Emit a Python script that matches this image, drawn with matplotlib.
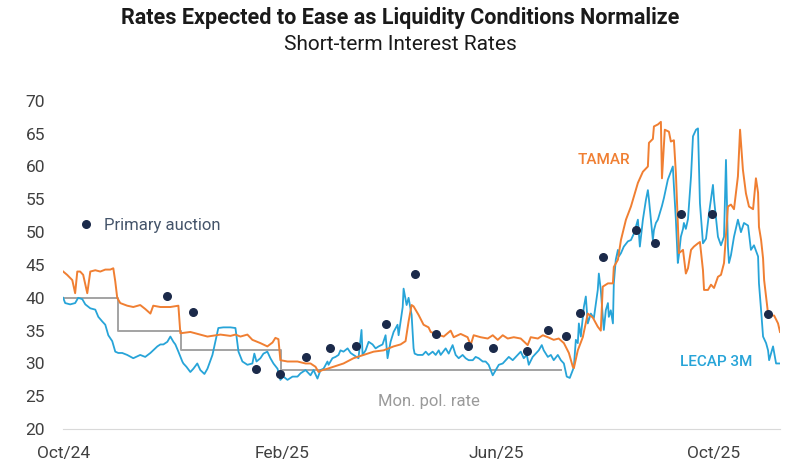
import pandas as pd
import matplotlib.pyplot as plt

plt.rcParams['font.family'] = ['Roboto', 'DejaVu Sans']

start = pd.Timestamp('2024-10-01')

# TAMAR, days since 1 Oct 2024 and rate (%)
tamar_days = [0, 2.2, 5.1, 6.7, 7.9, 9.5, 11.2, 13.5, 15.2, 18.0, 20.8, 23.6, 26.4, 28.1, 29.2,
              30.3, 32.0, 35.9, 39.3, 43.2, 46.0, 48.9, 50.5, 54.5, 60.1, 64.6, 65.7, 68.5, 71.3,
              76.9, 80.9, 88.2, 93.8, 96.6, 99.4, 103.3, 106.1, 110.6, 114.5, 117.4, 119.0, 120.7,
              121.8, 125.8, 131.4, 135.9, 138.7, 141.5, 143.2, 145.4, 148.2, 151.6, 157.2, 162.8,
              168.5, 174.1, 179.7, 185.3, 189.2, 192.0, 193.7, 195.4, 196.5, 199.3, 202.1, 204.9,
              206.1, 210.0, 213.4, 217.3, 219.0, 222.9, 226.8, 228.5, 230.2, 234.1, 238.1, 240.9,
              243.7, 246.5, 249.3, 252.7, 256.6, 260.5, 262.2, 266.2, 269.0, 271.8, 275.1, 277.9,
              280.8, 283.6, 285.8, 286.4, 288.6, 291.4, 294.2, 297.0, 299.8, 301.5, 302.6, 305.5,
              308.3, 308.8, 311.1, 312.8, 315.6, 318.4, 322.3, 325.1, 327.9, 328.5, 330.7, 331.3,
              333.5, 335.2, 335.8, 337.4, 339.7, 340.8, 342.5, 343.6, 344.7, 345.3, 347.6, 349.2,
              350.4, 352.1, 353.7, 356.0, 357.1, 358.8, 359.4, 361.6, 363.3, 365.0, 367.2, 368.9,
              370.6, 372.8, 374.5, 376.2, 378.4, 379.6, 381.2, 382.9, 384.6, 386.9, 388.5, 389.7,
              390.2, 391.4, 392.5, 393.1, 394.2, 395.3, 397.0, 398.7, 400.9, 402.0]
tamar_vals = [44.0, 43.5, 42.7, 40.7, 44.0, 44.0, 43.5, 40.7, 44.0, 44.2, 44.0, 44.3, 44.3, 44.5, 42.5,
              40.0, 39.2, 38.8, 38.6, 38.9, 38.3, 37.6, 38.8, 38.6, 38.6, 38.8, 34.6, 34.7, 34.8,
              34.4, 34.1, 34.4, 34.2, 34.4, 34.1, 34.4, 33.6, 33.1, 32.6, 33.2, 33.9, 33.7,
              30.5, 30.3, 30.3, 30.0, 30.0, 29.5, 28.7, 29.0, 29.2, 29.5, 30.0, 30.8,
              31.3, 31.8, 32.0, 32.6, 32.9, 33.4, 36.4, 38.9, 38.7, 37.4, 35.9, 35.5,
              34.8, 34.4, 34.1, 35.0, 34.0, 34.5, 34.0, 32.8, 34.3, 34.0, 33.8, 34.3,
              33.6, 34.3, 33.8, 34.0, 33.8, 32.8, 34.0, 33.8, 34.3, 34.0, 33.6, 33.8,
              33.1, 31.6, 29.5, 29.3, 32.0, 34.0, 37.6, 37.0, 35.6, 35.0, 41.7, 42.2,
              42.2, 44.7, 45.8, 48.8, 51.9, 53.9, 57.5, 59.2, 60.0, 63.6, 64.2, 66.1,
              66.4, 66.8, 58.2, 65.6, 65.3, 63.8, 64.0, 59.0, 51.4, 46.8, 47.3, 43.7,
              44.5, 47.3, 47.8, 48.3, 48.5, 44.2, 41.2, 41.2, 42.0, 41.5, 43.2, 43.5,
              45.3, 53.9, 54.2, 53.5, 58.5, 65.6, 59.5, 55.9, 53.9, 53.5, 58.2, 56.0,
              50.8, 48.8, 46.0, 42.7, 40.2, 37.6, 37.3, 37.3, 36.1, 34.8]

# LECAP 3M
lecap_days = [0, 1.1, 3.9, 6.7, 8.4, 10.7, 12.4, 15.2, 18.0, 19.7, 21.9, 23.6, 25.3, 27.5, 29.2,
              30.9, 33.1, 35.9, 39.3, 43.2, 46.0, 48.9, 52.8, 54.5, 56.2, 58.4, 60.1, 61.8, 62.9,
              64.6, 66.8, 67.4, 69.1, 71.3, 73.0, 75.2, 76.9, 79.2, 80.9, 83.7, 85.3, 87.0, 89.8,
              93.8, 96.6, 98.3, 100.5, 103.3, 106.1, 107.2, 108.4, 110.6, 112.3, 114.5, 116.2,
              117.9, 120.2, 121.8, 123.5, 125.8, 128.6, 131.4, 133.1, 135.9, 138.7, 140.4, 142.6,
              144.3, 146.0, 148.2, 148.8, 151.0, 152.7, 154.4, 155.5, 157.2, 159.5, 161.2, 162.8,
              165.6, 167.3, 167.9, 169.6, 171.3, 173.5, 175.2, 176.9, 179.1, 180.8, 181.9, 183.6,
              185.3, 187.5, 188.1, 190.4, 190.9, 192.6, 193.7, 195.4, 196.5, 197.1, 198.8, 201.6,
              203.3, 204.9, 207.2, 208.9, 210.6, 211.7, 214.5, 216.2, 218.4, 220.1, 221.8, 224.0,
              225.7, 227.4, 229.7, 231.3, 233.0, 235.3, 236.9, 238.6, 240.9, 242.6, 244.3, 246.5,
              248.2, 249.9, 252.1, 254.9, 256.6, 258.3, 260.0, 261.1, 263.3, 265.0, 266.7, 268.4,
              269.5, 271.8, 273.5, 275.1, 277.4, 279.1, 280.8, 282.4, 284.1, 285.8, 286.4, 287.5,
              288.6, 289.2, 290.3, 292.0, 293.1, 294.2, 295.9, 297.6, 299.8, 300.4, 301.5, 302.6,
              303.2, 304.3, 305.5, 306.0, 307.1, 308.3, 308.8, 309.9, 311.1, 311.6, 312.8, 314.4,
              316.7, 318.4, 320.1, 322.3, 323.4, 325.1, 326.8, 327.9, 328.5, 329.6, 330.7, 331.3,
              332.4, 333.5, 335.8, 336.9, 339.1, 341.9, 342.5, 343.6, 344.7, 345.3, 346.4, 347.6,
              348.1, 349.2, 350.4, 352.1, 353.2, 354.9, 356.0, 357.1, 358.8, 360.5, 362.2, 364.4,
              365.0, 367.2, 368.9, 370.6, 371.7, 372.8, 373.4, 374.5, 376.2, 378.4, 380.1, 381.8,
              384.1, 385.7, 387.4, 389.7, 390.2, 391.4, 392.5, 394.2, 395.3, 395.9, 398.1, 399.8,
              401.5]
lecap_vals = [40.0, 39.2, 39.0, 39.2, 40.0, 39.8, 39.0, 38.4, 38.2, 37.1, 36.4, 35.9, 34.3, 33.4, 31.8,
              31.6, 31.6, 31.3, 30.8, 31.3, 31.0, 31.6, 32.6, 32.9, 32.9, 33.3, 34.1, 33.3, 32.9,
              31.8, 30.3, 30.0, 29.5, 28.7, 29.2, 30.0, 29.0, 28.4, 29.2, 31.3, 33.3, 35.4, 35.5,
              35.5, 35.4, 31.8, 30.3, 29.8, 30.0, 31.5, 30.3, 30.8, 31.5, 31.8, 30.8,
              30.0, 29.2, 27.5, 28.0, 27.5, 28.0, 28.0, 28.5, 29.0, 28.2, 29.0, 27.7,
              29.0, 29.2, 30.3, 29.8, 30.8, 31.0, 31.3, 32.0, 31.8, 32.3, 31.6, 31.3,
              30.8, 35.1, 31.3, 32.0, 33.3, 32.9, 32.3, 32.6, 32.9, 34.3, 30.8, 33.3,
              34.8, 35.9, 34.3, 38.6, 41.4, 38.9, 40.0, 37.4, 32.3, 31.5, 31.3, 31.3,
              31.8, 31.3, 31.8, 31.3, 32.0, 31.3, 32.3, 31.5, 32.8, 31.3, 30.8, 31.3,
              30.8, 30.5, 30.5, 31.0, 30.8, 30.3, 30.3, 29.8, 28.2, 29.0, 29.8, 30.0,
              30.5, 31.0, 30.5, 31.3, 31.8, 30.8, 31.3, 29.8, 31.0, 31.5, 32.0, 32.8,
              32.0, 31.0, 31.3, 30.5, 31.3, 30.5, 30.0, 28.0, 27.8, 29.0, 29.5, 33.6,
              33.1, 36.1, 34.1, 38.6, 40.2, 36.1, 37.6, 36.9, 41.2, 43.7, 41.2, 37.1,
              35.1, 38.1, 39.2, 37.1, 38.1, 36.1, 42.2, 45.8, 47.3, 46.3, 46.8, 47.8,
              48.6, 48.8, 49.8, 51.9, 47.8, 51.9, 54.9, 56.4, 55.0, 51.9, 48.8, 50.3,
              51.4, 51.9, 54.0, 55.2, 58.0, 60.0, 57.0, 51.9, 45.3, 46.5, 49.3, 50.5,
              51.4, 50.5, 52.0, 58.5, 64.6, 65.6, 65.8, 54.4, 48.3, 49.0, 52.9, 57.2,
              55.0, 49.3, 48.0, 49.3, 61.0, 47.8, 45.3, 46.5, 49.3, 51.9, 50.0, 51.4,
              51.0, 47.3, 48.0, 46.3, 42.2, 38.1, 34.1, 33.1, 32.0, 30.5, 32.6, 30.0,
              30.0]

# primary auction results
auction_days = [58.4, 73.0, 108.4, 121.8, 135.9, 149.9, 164.0, 180.8, 197.1, 208.9, 226.8,
                240.9, 260.0, 271.8, 281.9, 289.7, 302.6, 321.2, 331.8, 346.4, 363.9, 395.3]
auction_vals = [40.3, 37.9, 29.1, 28.4, 31.0, 32.4, 32.6, 36.0, 43.7, 34.5, 32.7,
                32.3, 31.9, 35.1, 34.2, 37.7, 46.2, 50.4, 48.4, 52.8, 52.8, 37.5]

# monetary policy rate
mpr_dates = ['2024-10-01', '2024-11-01', '2024-12-06', '2025-01-31', '2025-07-07']
mpr_vals = [40, 35, 32, 29, 29]

tick_dates = ['2024-10-01', '2025-02-01', '2025-06-01', '2025-10-01']
tick_labels = ['Oct/24', 'Feb/25', 'Jun/25', 'Oct/25']
end_day = 402


def to_dates(days):
    return start + pd.to_timedelta(days, unit='D')


orange = '#F07F32'
blue = '#27A4D8'
gray = '#A3A3A3'
navy = '#1B2A4A'

fig = plt.figure(figsize=(8, 4.69), dpi=100)
ax = fig.add_axes([0.079, 0.085, 0.896, 0.70])

ax.plot(pd.to_datetime(mpr_dates), mpr_vals, drawstyle='steps-post', color=gray, lw=1.4)
ax.plot(to_dates(lecap_days), lecap_vals, color=blue, lw=1.3)
ax.plot(to_dates(tamar_days), tamar_vals, color=orange, lw=1.4)
ax.scatter(to_dates(auction_days), auction_vals, s=30, color=navy, zorder=5, clip_on=False)

# labels inside the plot
ax.scatter(to_dates([12.9]), [51.25], s=30, color=navy, zorder=5)
ax.text(to_dates([23.0])[0], 51.0, 'Primary auction', color='#44546A', fontsize=12, va='center')
ax.text(to_dates([303.2])[0], 61.0, 'TAMAR', color=orange, fontsize=11, fontweight='medium',
        ha='center', va='center')
ax.text(to_dates([366.4])[0], 30.3, 'LECAP 3M', color=blue, fontsize=11, fontweight='medium',
        ha='center', va='center')
ax.text(to_dates([205.0])[0], 24.2, 'Mon. pol. rate', color='#9A9A9A', fontsize=12,
        ha='center', va='center')

ax.set_xlim(start, to_dates([end_day])[0])
ax.set_ylim(20, 70)
ax.set_yticks(range(20, 71, 5))
ax.set_xticks(pd.to_datetime(tick_dates))
ax.set_xticklabels(tick_labels)
ax.tick_params(length=0, labelsize=12.5, labelcolor='#404040')
ax.tick_params(axis='y', pad=13)
ax.tick_params(axis='x', pad=12)
for side in ['top', 'right', 'left']:
    ax.spines[side].set_visible(False)
ax.spines['bottom'].set_color('#D9D9D9')

fig.text(0.5, 0.962, 'Rates Expected to Ease as Liquidity Conditions Normalize',
         ha='center', va='center', fontsize=15.5, fontweight='bold', color='#1a1a1a')
fig.text(0.5, 0.906, 'Short-term Interest Rates', ha='center', va='center',
         fontsize=15, color='#1a1a1a')

fig.savefig('out.png', dpi=100)
